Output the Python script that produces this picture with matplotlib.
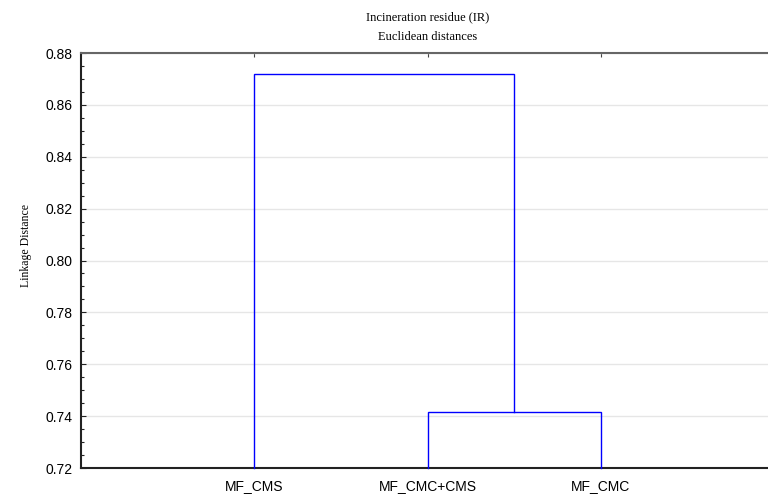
import matplotlib
matplotlib.use("Agg")
import matplotlib.pyplot as plt
from matplotlib.ticker import MultipleLocator

# Leaves in plotting order and the joining distances of the tree
categories = ["MF_CMS", "MF_CMC+CMS", "MF_CMC"]
merge_pairs = [(1, 2), (0, 3)]          # node 3 = cluster formed by the first merge
merge_heights = [0.7415, 0.8718]
y_ticks = [0.72, 0.74, 0.76, 0.78, 0.80, 0.82, 0.84, 0.86, 0.88]

fig = plt.figure(figsize=(7.68, 4.94), dpi=100)
ax = fig.add_axes([80.5 / 768, 26 / 494, 694 / 768, 415 / 494])

y_min, y_max = 0.72, 0.88
leaf_x = [i + 1 for i in range(len(categories))]

# node positions: leaves sit at the baseline
node_x = {i: x for i, x in enumerate(leaf_x)}
node_y = {i: y_min for i in range(len(categories))}
next_id = len(categories)
for (a, b), h in zip(merge_pairs, merge_heights):
    xa, ya = node_x[a], node_y[a]
    xb, yb = node_x[b], node_y[b]
    ax.plot([xa, xa, xb, xb], [ya, h, h, yb], color="#0000ff", lw=1.0,
            solid_joinstyle="miter", zorder=3, clip_on=False)
    node_x[next_id] = (xa + xb) / 2
    node_y[next_id] = h
    next_id += 1

ax.set_xlim(0, 4)
ax.set_ylim(y_min, y_max)
ax.set_yticks(y_ticks)
ax.set_yticklabels([f"{v:.2f}" for v in y_ticks])
ax.yaxis.set_minor_locator(MultipleLocator(0.005))
ax.set_xticks(leaf_x)
ax.set_xticklabels(categories)

for lbl in ax.get_yticklabels() + ax.get_xticklabels():
    lbl.set_fontfamily("Liberation Sans")
    lbl.set_fontsize(10)

ax.grid(axis="y", color="#e6e6e6", lw=1.0, zorder=0)
ax.tick_params(axis="y", which="major", direction="in", length=3.5, width=0.8,
               color="#222222", pad=6)
ax.tick_params(axis="y", which="minor", direction="in", length=2, width=0.8,
               color="#222222")
ax.tick_params(axis="x", which="major", bottom=False, top=True, direction="in",
               length=3, width=0.8, color="#444444", pad=8)

for side in ("left", "bottom"):
    ax.spines[side].set_color("#222222")
    ax.spines[side].set_linewidth(1.5)
ax.spines["top"].set_color("#666666")
ax.spines["top"].set_linewidth(1.5)
ax.spines["right"].set_visible(False)

ax.set_ylabel("Linkage Distance", family="Liberation Serif", fontsize=8.5)
ax.yaxis.set_label_coords(-0.07, 0.535)
fig.text(428 / 768, 1 - 17 / 494, "Incineration residue (IR)", family="Liberation Serif",
         fontsize=9, ha="center", va="center")
fig.text(428 / 768, 1 - 37 / 494, "Euclidean distances", family="Liberation Serif",
         fontsize=9, ha="center", va="center")

fig.savefig("out.png", dpi=100)
